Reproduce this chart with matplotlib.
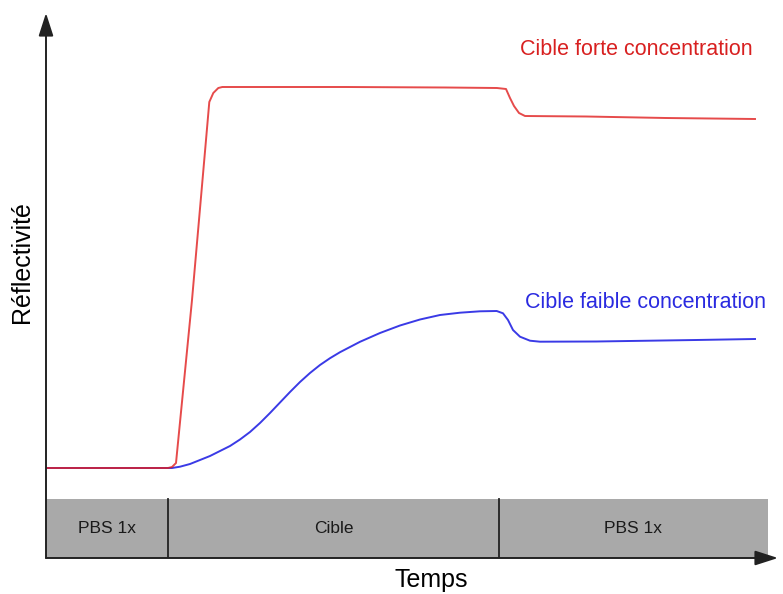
import numpy as np
import matplotlib
matplotlib.use("Agg")
import matplotlib.pyplot as plt
from matplotlib.patches import Rectangle

plt.rcParams["font.family"] = ["Liberation Sans", "DejaVu Sans"]

# temps (u.a.) et reflectivite (u.a.)
t_forte = [0, 12.2, 12.6, 13.0, 14.6, 16.0, 16.33, 16.73, 17.23, 17.63,
           19.4, 30.0, 40.0, 45.1, 46.0, 46.4, 46.8, 47.3, 47.9, 54.0, 62.0, 70.9]
r_forte = [0.90, 0.90, 0.91, 0.95, 2.58, 4.18, 4.56, 4.65, 4.70, 4.71,
           4.71, 4.71, 4.705, 4.70, 4.69, 4.60, 4.52, 4.45, 4.42, 4.415, 4.40, 4.39]

t_faible = [0, 12.6, 13.4, 14.4, 15.4, 16.4, 17.4, 18.4, 19.4, 20.4, 21.4,
            22.4, 23.4, 24.4, 25.4, 26.4, 27.4, 28.4, 29.4, 31.4, 33.4, 35.4,
            37.4, 39.4, 41.4, 43.4, 45.07, 45.7, 46.2, 46.7, 47.4, 48.4, 49.4,
            55.0, 65.0, 70.9]
r_faible = [0.90, 0.90, 0.913, 0.94, 0.98, 1.02, 1.07, 1.12, 1.185, 1.26, 1.35,
            1.45, 1.555, 1.66, 1.76, 1.85, 1.93, 1.998, 2.058, 2.162, 2.25,
            2.325, 2.385, 2.43, 2.453, 2.467, 2.47, 2.447, 2.38, 2.28, 2.213,
            2.173, 2.163, 2.165, 2.18, 2.19]

# phases de l'experience
phases = ["PBS 1x", "Cible", "PBS 1x"]
bornes = [0, 12.2, 45.3, 72.2]

W, H = 783, 594
fig = plt.figure(figsize=(W / 100, H / 100), dpi=100)
ax = fig.add_axes([46 / W, 36 / H, (778 - 46) / W, (558 - 13) / H])
ax.set_xlim(0, 73.2)
ax.set_ylim(0, 5.45)
ax.axis("off")

# bande des phases
haut_bande = 0.59
for i, nom in enumerate(phases):
    ax.add_patch(Rectangle((bornes[i], 0), bornes[i + 1] - bornes[i], haut_bande,
                           fc="#a9a9a9", ec="none", zorder=1))
    ax.text((bornes[i] + bornes[i + 1]) / 2, haut_bande / 2, nom,
            ha="center", va="center", fontsize=12.5, color="#1a1a1a", zorder=3)
for b in bornes[1:-1]:
    ax.plot([b, b], [0, haut_bande], color="#222222", lw=1.3, zorder=2)

# courbes
ax.plot(t_faible, r_faible, color="#3a3ae6", lw=1.4, zorder=4,
        solid_joinstyle="round")
ax.plot(t_forte, r_forte, color="#e01e1e", lw=1.4, alpha=0.8, zorder=5,
        solid_joinstyle="round")

ax.text(47.4, 5.09, "Cible forte concentration", color="#d82020",
        fontsize=15.5, ha="left", va="center")
ax.text(47.9, 2.56, "Cible faible concentration", color="#2a2ae0",
        fontsize=15.5, ha="left", va="center")

# axes avec fleches
kw = dict(arrowstyle="-|>,head_length=1.4,head_width=0.45", color="#222222",
          lw=1.4, shrinkA=0, shrinkB=0)
ax.annotate("", xy=(0, 1), xytext=(0, 0), xycoords="axes fraction",
            arrowprops=kw, zorder=6)
ax.annotate("", xy=(1, 0), xytext=(0, 0), xycoords="axes fraction",
            arrowprops=kw, zorder=6)

fig.text(22 / W, 1 - 262 / H, "Réflectivité", rotation=90, ha="center",
         va="center", fontsize=18)
fig.text(431 / W, 1 - 580 / H, "Temps", ha="center", va="center", fontsize=18)

fig.savefig("out.png", dpi=100)
